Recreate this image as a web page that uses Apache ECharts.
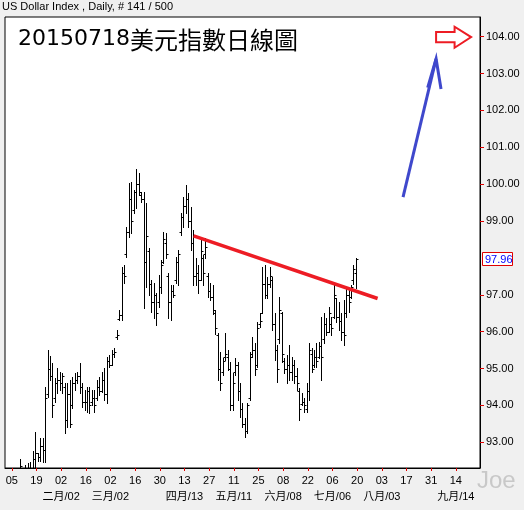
<!DOCTYPE html>
<html><head><meta charset="utf-8">
<script src="https://cdn.jsdelivr.net/npm/echarts@6/dist/echarts.min.js"></script>
<style>html,body{margin:0;padding:0;background:#f0f0f0;overflow:hidden}#c{width:524px;height:510px}</style>
</head><body><div id="c"></div>
<script>
// ---- data (trading days from 2015-01-05) ----
const opens = [91.40,91.70,91.90,92.00,92.20,91.90,92.20,92.10,92.00,92.55,
92.70,92.60,92.90,92.80,94.30,95.00,94.80,94.20,94.60,94.70,
94.60,94.50,93.60,94.30,94.00,94.60,94.70,94.80,94.50,94.10,
94.10,94.40,94.10,94.20,94.20,94.50,94.40,94.70,94.30,95.20,
95.10,95.40,95.85,96.35,96.45,97.60,98.10,98.70,99.60,99.30,
99.80,100.00,99.70,99.60,97.90,98.20,97.30,96.80,97.00,96.80,
97.20,97.90,98.40,97.50,96.80,97.10,97.40,97.90,98.70,99.10,
99.40,99.60,99.00,98.40,97.50,97.60,97.40,98.00,98.10,97.50,
97.10,96.95,96.50,95.90,95.00,94.90,95.30,95.30,95.00,94.00,
94.90,95.10,94.40,93.90,93.50,93.30,94.20,95.40,95.50,95.10,
96.20,96.50,97.30,97.00,97.30,97.40,96.20,95.50,95.80,96.50,
95.20,95.00,95.10,94.90,95.10,94.80,94.40,94.05,94.10,93.90,
94.40,95.40,95.10,95.30,95.30,95.60,95.80,96.20,96.00,96.20,
96.40,96.90,96.40,96.30,96.00,96.50,97.00,96.95,97.40,97.60];
const highs = [91.90,92.05,92.15,92.55,92.25,92.39,92.44,92.47,92.77,93.29,
92.72,93.12,93.12,94.51,95.50,95.34,95.15,94.74,95.01,94.91,
94.88,94.62,94.61,94.69,94.78,94.88,94.91,95.15,94.61,94.42,
94.51,94.51,94.42,94.42,94.69,94.78,94.91,95.01,95.32,95.37,
95.50,95.55,96.05,96.59,97.76,97.81,98.85,100.02,100.07,99.84,
100.40,100.29,99.79,99.79,99.48,98.26,97.40,97.31,97.04,97.54,
97.94,98.69,98.67,97.58,97.27,97.27,98.03,98.21,99.22,99.66,
99.98,99.75,99.39,98.76,98.00,97.81,98.54,98.08,98.54,97.59,
97.32,97.27,96.60,95.96,95.46,95.29,95.96,95.50,95.19,94.88,
95.29,95.19,94.61,94.07,93.66,94.07,95.46,95.86,95.69,96.27,
96.50,97.76,97.81,97.49,97.76,97.49,96.50,95.64,96.95,96.54,
95.29,95.37,95.64,95.32,95.23,95.01,94.47,94.33,94.20,94.61,
95.69,95.56,95.50,95.69,95.72,96.40,96.50,96.37,96.68,96.40,
97.31,96.91,96.81,96.50,96.86,97.22,97.13,97.27,97.81,98.00];
const lows = [91.20,91.50,91.70,91.90,91.70,91.80,91.90,91.30,92.00,92.20,
92.49,92.49,92.47,92.47,94.24,94.69,93.69,94.10,94.34,94.42,
94.34,93.25,93.42,93.42,93.93,94.42,94.61,94.34,93.97,93.88,
93.83,93.79,94.02,93.83,94.15,94.28,94.37,94.15,94.06,95.05,
95.10,95.32,95.80,96.32,96.32,97.31,98.03,98.58,98.67,99.21,
99.35,99.71,99.53,96.64,97.22,97.00,96.54,96.36,96.18,96.68,
97.04,97.85,97.99,96.36,96.32,96.95,97.31,97.27,98.62,98.85,
99.22,98.85,98.21,97.27,97.27,97.05,97.40,97.27,98.00,96.94,
96.86,96.49,95.95,94.69,94.42,94.83,95.23,94.96,93.88,93.88,
94.83,94.15,93.69,93.42,93.14,93.25,94.15,95.31,94.83,95.04,
96.12,96.50,96.90,96.91,97.22,96.05,95.23,94.64,95.69,95.19,
94.88,94.61,94.69,94.69,94.61,94.42,93.60,94.01,93.83,93.83,
94.15,94.91,95.04,95.04,95.29,94.69,95.69,95.91,96.00,95.91,
96.37,96.27,96.05,95.77,95.64,96.40,96.54,96.91,97.30,97.19];
const closes = [91.70,91.90,92.00,92.35,91.90,92.20,92.10,92.00,92.55,92.70,
92.60,92.90,92.80,94.20,95.00,94.80,94.00,94.60,94.70,94.60,
94.80,93.60,94.30,93.50,94.60,94.70,94.80,94.50,94.10,94.10,
94.40,94.00,94.20,94.00,94.50,94.40,94.70,94.30,95.20,95.10,
95.40,95.45,95.90,96.45,97.60,97.50,98.70,99.60,99.00,99.80,
100.00,99.80,99.60,97.90,98.60,97.30,96.80,97.00,96.50,97.20,
97.80,98.50,98.10,96.80,97.10,97.00,97.90,98.10,99.10,99.40,
99.60,99.00,98.40,97.50,97.60,97.40,98.20,97.60,98.30,97.10,
96.95,96.60,96.10,95.00,94.60,95.20,95.40,95.00,94.00,94.60,
95.10,94.40,93.90,93.50,93.30,94.00,95.30,95.50,95.00,96.10,
96.30,97.30,97.00,97.30,97.50,96.20,95.50,95.00,96.60,95.40,
95.00,95.10,94.90,95.10,94.80,94.60,93.90,94.10,94.00,94.40,
95.50,95.00,95.30,95.20,95.60,95.30,96.20,96.00,96.50,96.10,
97.00,96.40,96.30,96.00,95.90,97.00,96.80,97.20,97.70,97.96];

// x-axis ticks: every 10 trading days (value = days since 2015-01-05)
const dayTickPos = [0,10,20,30,40,50,60,70,80,90,100,110,120,130,140,150,160,170,180];
const dayTickLabels = ['05','19','02','16','02','16','30','13','27','11','25','08','22','06','20','03','17','31','14'];
const monthTickPos = [20,40,70,90,110,130,150,180];
const monthTickLabels = ['二月/02','三月/02','四月/13','五月/11','六月/08','七月/06','八月/03','九月/14'];
const yTickValues = [93,94,95,96,97,99,100,101,102,103,104];
const lastValue = 97.96;

// annotations in data coordinates [x, y]
const trendLine = [[73.7, 98.60], [148.3, 96.90]];
const blueShaft = [[158.6, 99.65], [172.0, 103.40]];
const blueHeadLeft = [168.6, 102.62];
const blueHeadRight = [174.0, 102.58];
const redArrowPts = [[172.0,104.13],[179.5,104.13],[179.5,104.27],[186.2,103.99],[179.5,103.70],[179.5,103.85],[172.0,103.85]];

const ohlc = opens.map((o, i) => [i + 0.5, o, highs[i], lows[i], closes[i]]);

const chart = echarts.init(document.getElementById('c'), null, {renderer: 'canvas'});
const FONT = "'Liberation Sans', Arial, 'Noto Sans CJK TC', sans-serif";
const XMIN = -2.75, XMAX = 189.8, YMIN = 92.303, YMAX = 104.534;

chart.setOption({
  backgroundColor: '#f0f0f0',
  animation: false,
  grid: {left: 5, right: 44, top: 17, bottom: 42, show: true, backgroundColor: '#ffffff', borderColor: '#000', borderWidth: 1, containLabel: false, outerBoundsMode: 'none'},
  xAxis: [{
    type: 'value', min: XMIN, max: XMAX, position: 'bottom',
    axisLine: {show: true, onZero: false, lineStyle: {color: '#000', width: 1}},
    axisTick: {show: true, customValues: dayTickPos, length: 3, lineStyle: {color: '#e00000', width: 1}},
    axisLabel: {show: true, customValues: dayTickPos, margin: 7, color: '#000', fontSize: 11, fontFamily: FONT,
      formatter: v => dayTickLabels[dayTickPos.indexOf(Math.round(v))] || ''},
    splitLine: {show: false}
  }, {
    type: 'value', min: XMIN, max: XMAX, position: 'bottom', offset: 0,
    axisLine: {show: false, onZero: false}, axisTick: {show: false},
    axisLabel: {show: true, customValues: monthTickPos, margin: 23, color: '#000', fontSize: 11, fontFamily: FONT,
      formatter: v => monthTickLabels[monthTickPos.indexOf(Math.round(v))] || ''},
    splitLine: {show: false}
  }],
  yAxis: {
    type: 'value', min: YMIN, max: YMAX, position: 'right',
    axisLine: {show: true, onZero: false, lineStyle: {color: '#000'}},
    axisTick: {show: true, customValues: yTickValues, length: 4, lineStyle: {color: '#e00000'}},
    axisLabel: {show: true, customValues: yTickValues, margin: 6, color: '#000', fontSize: 11, fontFamily: FONT,
      formatter: v => v.toFixed(2)},
    splitLine: {show: false}
  },
  series: [{
    type: 'custom', clip: true, xAxisIndex: 0,
    data: ohlc,
    encode: {x: 0, y: [1, 2, 3, 4]},
    renderItem: (params, api) => {
      const x = api.value(0);
      const pH = api.coord([x, api.value(2)]);
      const pL = api.coord([x, api.value(3)]);
      const pO = api.coord([x, api.value(1)]);
      const pC = api.coord([x, api.value(4)]);
      const px = Math.round(pH[0]) + 0.5;
      const yo = Math.round(pO[1]) + 0.5, yc = Math.round(pC[1]) + 0.5;
      const st = {stroke: '#000', lineWidth: 1};
      return {type: 'group', children: [
        {type: 'line', shape: {x1: px, y1: Math.round(pH[1]), x2: px, y2: Math.round(pL[1]) + 1}, style: st},
        {type: 'line', shape: {x1: px - 2, y1: yo, x2: px, y2: yo}, style: st},
        {type: 'line', shape: {x1: px, y1: yc, x2: px + 2, y2: yc}, style: st}
      ]};
    }
  }, {
    type: 'line', data: trendLine, symbol: 'none', silent: true,
    lineStyle: {color: '#ed1c24', width: 3.5}
  }]
});

const P = p => chart.convertToPixel({gridIndex: 0}, p);
const s0 = P(blueShaft[0]), s1 = P(blueShaft[1]);
const hl = P(blueHeadLeft), hr = P(blueHeadRight);
const ly = P([0, lastValue])[1];
const redPts = redArrowPts.map(P);

chart.setOption({
  graphic: [
    {type: 'text', left: 2, top: 1, style: {text: 'US Dollar Index , Daily, # 141 / 500', font: "11px 'Liberation Sans', Arial", fill: '#000'}},
    {type: 'text', x: 18, y: 28, style: {text: '20150718', font: "22px 'DejaVu Sans'", fill: '#000', verticalAlign: 'top'}},
    {type: 'text', x: 130, y: 28, style: {text: '美元指數日線圖', font: "24px 'Noto Sans CJK TC'", fill: '#000', verticalAlign: 'top'}},
    {type: 'polyline', shape: {points: [s0, s1]}, style: {stroke: '#3f48cc', lineWidth: 3}},
    {type: 'polyline', shape: {points: [hl, s1, hr]}, style: {stroke: '#3f48cc', lineWidth: 3, fill: null}},
    {type: 'polygon', shape: {points: redPts}, style: {stroke: '#ed1c24', lineWidth: 2, fill: '#fff'}},
    {type: 'rect', shape: {x: 482.5, y: Math.round(ly) - 6.5, width: 30, height: 13}, style: {stroke: '#e00000', lineWidth: 1, fill: '#fff'}},
    {type: 'text', x: 485, y: Math.round(ly) + 0.5, style: {text: lastValue.toFixed(2), font: "11px 'Liberation Sans', Arial", fill: '#0000ff', verticalAlign: 'middle'}},
    {type: 'text', x: 477, y: 469, style: {text: 'Joe', font: "24px 'Liberation Sans', Arial", fill: '#c8c8c8', verticalAlign: 'top'}}
  ]
});
</script>
</body></html>
